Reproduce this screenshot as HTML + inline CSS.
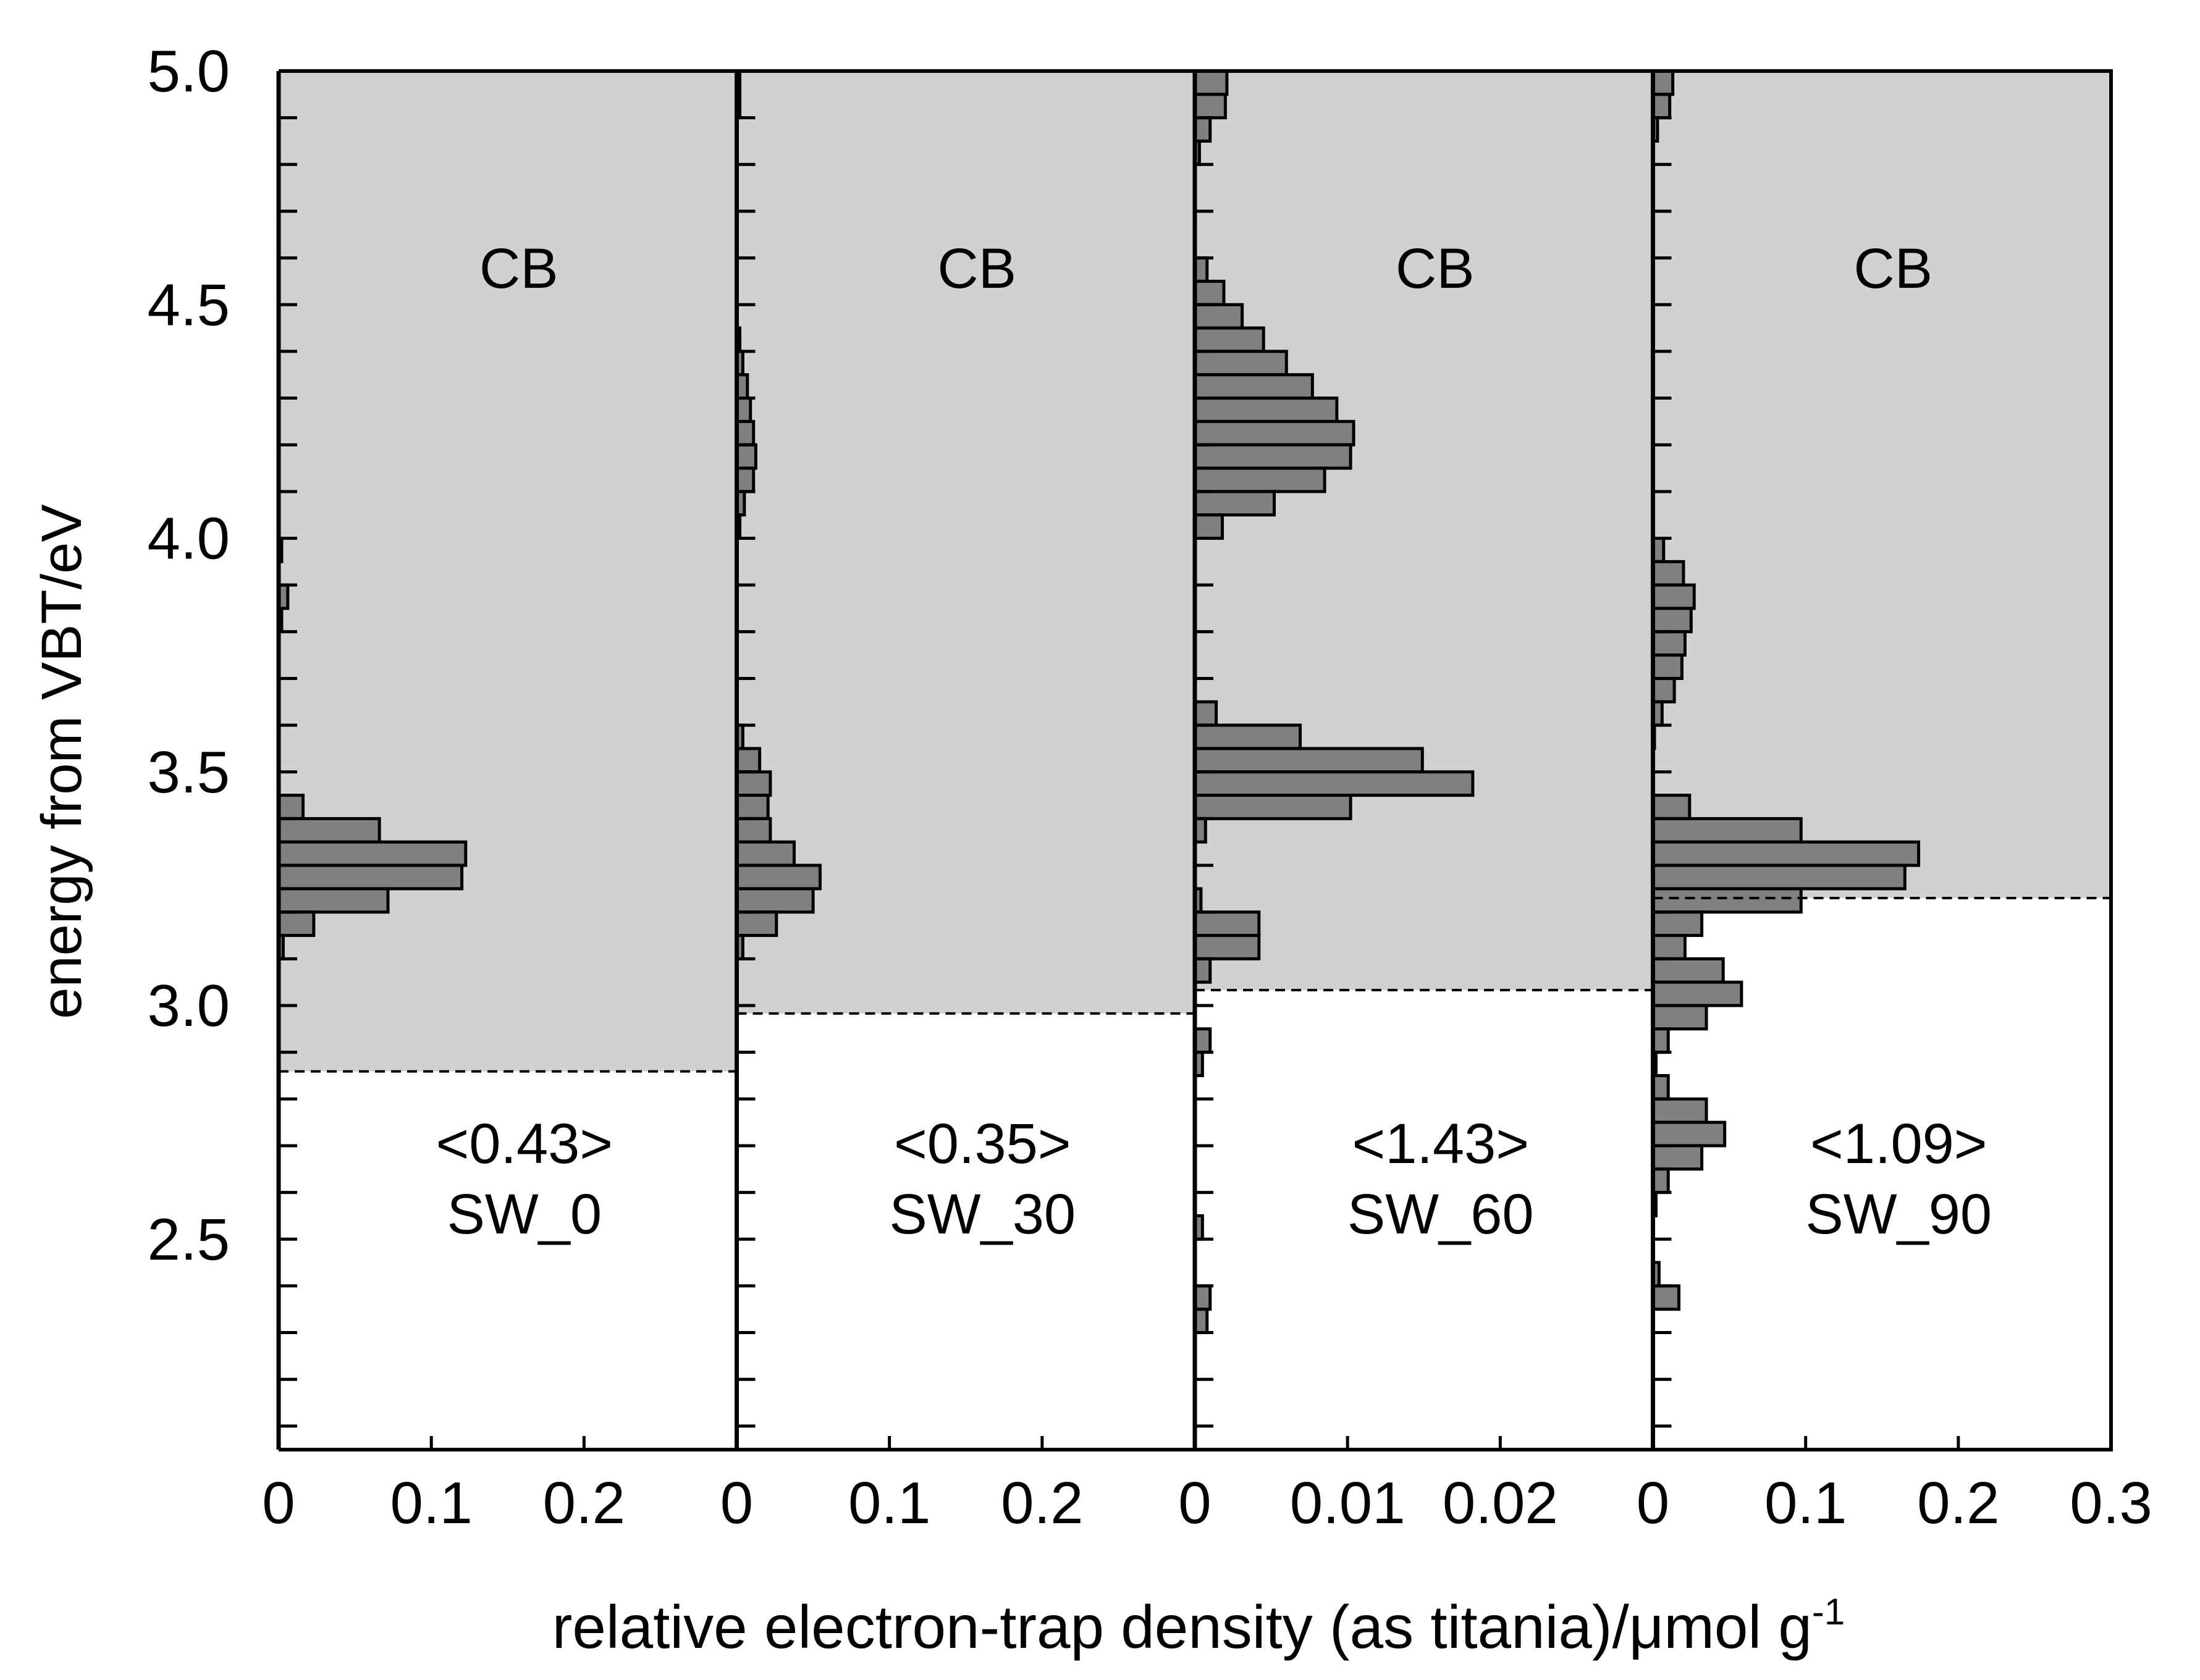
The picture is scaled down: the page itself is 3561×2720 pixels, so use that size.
<!DOCTYPE html>
<html><head><meta charset="utf-8">
<style>
html,body{margin:0;padding:0;background:#fff;}
svg{display:block;}
text{font-family:"Liberation Sans",sans-serif;fill:#000;}
</style></head>
<body>
<svg id="chart" width="3561" height="2720" viewBox="0 0 3561 2720" xmlns="http://www.w3.org/2000/svg"></svg>
<script>
const panelNames = ["SW_0","SW_30","SW_60","SW_90"];
const panelMeans = ["<0.43>","<0.35>","<1.43>","<1.09>"];
const panelMax = [0.3,0.3,0.03,0.3];
const xTickLabelsA = ["0","0.1","0.2"];
const xTickLabelsB = ["0","0.01","0.02"];
const xTickLabelEnd = "0.3";
const yTickLabels = ["5.0","4.5","4.0","3.5","3.0","2.5"];
const cbEdge = [2.859,2.983,3.033,3.23];
const binWidth = 0.05;
const sw0Low = [3.95,3.85,3.80,3.40,3.35,3.30,3.25,3.20,3.15,3.10];
const sw0Val = [0.002,0.006,0.002,0.016,0.066,0.1225,0.12,0.0716,0.023,0.003];
const sw30Low = [4.95,4.90,4.40,4.35,4.30,4.25,4.20,4.15,4.10,4.05,4.00,3.55,3.50,3.45,3.40,3.35,3.30,3.25,3.20,3.15,3.10];
const sw30Val = [0.002,0.002,0.002,0.004,0.007,0.009,0.011,0.0125,0.011,0.005,0.002,0.004,0.015,0.022,0.0205,0.022,0.0376,0.0546,0.050,0.026,0.004];
const sw60Low = [4.95,4.90,4.85,4.80,4.55,4.50,4.45,4.40,4.35,4.30,4.25,4.20,4.15,4.10,4.05,4.00,3.60,3.55,3.50,3.45,3.40,3.35,3.20,3.15,3.10,3.05,2.90,2.85,2.50,2.35,2.30];
const sw60Val = [0.0021,0.002,0.001,0.0003,0.0008,0.0019,0.0031,0.0045,0.006,0.0077,0.0093,0.0104,0.0102,0.0085,0.0052,0.0018,0.0014,0.0069,0.0149,0.0182,0.0102,0.0007,0.0004,0.0042,0.0042,0.001,0.001,0.0005,0.0005,0.001,0.0008];
const sw90Low = [4.95,4.90,4.85,3.95,3.90,3.85,3.80,3.75,3.70,3.65,3.60,3.55,3.40,3.35,3.30,3.25,3.20,3.15,3.10,3.05,3.00,2.95,2.90,2.85,2.80,2.75,2.70,2.65,2.60,2.55,2.40,2.35];
const sw90Val = [0.013,0.011,0.003,0.007,0.020,0.027,0.025,0.021,0.019,0.014,0.006,0.001,0.024,0.097,0.174,0.165,0.097,0.032,0.021,0.046,0.058,0.035,0.010,0.002,0.010,0.035,0.047,0.032,0.010,0.002,0.004,0.017];

const lows = [sw0Low,sw30Low,sw60Low,sw90Low];
const vals = [sw0Val,sw30Val,sw60Val,sw90Val];

const NS = "http://www.w3.org/2000/svg";
const svg = document.getElementById('chart');
const X0 = 451, PW = 741.5, YTOP = 115, YBOT = 2347, EMAX = 5.0, PXE = 756.5;
function yPx(e){ return YTOP + (EMAX - e) * PXE; }
function xPx(p, v){ return X0 + p*PW + v / panelMax[p] * PW; }
function mk(tag, attrs, parent){
  const el = document.createElementNS(NS, tag);
  for (const k in attrs) el.setAttribute(k, attrs[k]);
  (parent || svg).appendChild(el);
  return el;
}

for (let p = 0; p < 4; p++) {
  const g = mk('g', {});
  
  
  const left = X0 + p*PW;
  const cb = mk('rect', {x:left, y:YTOP, width:PW, height:yPx(cbEdge[p]) - YTOP, fill:'#d3d0d1'}, g);
  
  
  for (let i = 0; i < lows[p].length; i++) {
    const top = Math.max(yPx(lows[p][i] + binWidth), YTOP);
    const bot = yPx(lows[p][i]);
    const b = mk('rect', {x:left, y:top, width:Math.max(xPx(p, vals[p][i]) - left, 0.5), height:bot-top, fill:'#808080', stroke:'#000', 'stroke-width':5}, g);
    
    
  }
  const dl = mk('line', {x1:left, x2:left+PW, y1:yPx(cbEdge[p]), y2:yPx(cbEdge[p]), stroke:'#000', 'stroke-width':4, 'stroke-dasharray':'16 10'}, g);
  
  
  for (let k = 1; k <= 29; k++) {
    const e = EMAX - k*0.1;
    const t = mk('line', {x1:left, x2:left+30, y1:yPx(e), y2:yPx(e), stroke:'#000', 'stroke-width':5}, g);
    
    
  }
  const ax = mk('line', {x1:left, x2:left, y1:YTOP, y2:YBOT, stroke:'#000', 'stroke-width':7}, g);
  
  
  const labs = p === 2 ? xTickLabelsB : xTickLabelsA;
  for (let k = 0; k < labs.length; k++) {
    const xv = p === 2 ? k*0.01 : k*0.1;
    const xx = xPx(p, xv);
    if (k > 0) {
      const t = mk('line', {x1:xx, x2:xx, y1:YBOT, y2:YBOT-22, stroke:'#000', 'stroke-width':5}, g);
      
      
    }
    const tl = mk('text', {x:xx, y:2466, 'font-size':96, 'text-anchor':'middle'}, g);
    tl.textContent = labs[k];
    
    
  }
  const cx = left + PW/2;
  const cbt = mk('text', {x:cx+18, y:466, 'font-size':92, 'text-anchor':'middle'}, g);
  cbt.textContent = 'CB';
  
  
  const mt = mk('text', {x:cx+27, y:1883, 'font-size':92, 'text-anchor':'middle'}, g);
  mt.textContent = panelMeans[p];
  
  
  const nt = mk('text', {x:cx+27, y:1997, 'font-size':92, 'text-anchor':'middle'}, g);
  nt.textContent = panelNames[p];
  
  
}
const endLbl = mk('text', {x:xPx(3, 0.3), y:2466, 'font-size':96, 'text-anchor':'middle'});
endLbl.textContent = xTickLabelEnd;


const fr = mk('path', {d:`M${X0} ${YTOP} H${X0+4*PW} V${YBOT} H${X0}`, fill:'none', stroke:'#000', 'stroke-width':6});


for (let k = 0; k < yTickLabels.length; k++) {
  const e = EMAX - k*0.5;
  const t = mk('text', {x:372, y:yPx(e)+33, 'font-size':96, 'text-anchor':'end'});
  t.textContent = yTickLabels[k];
  
  
}
const yt = mk('text', {x:0, y:0, 'font-size':92, 'text-anchor':'middle', transform:'translate(131,1233) rotate(-90)'});
yt.textContent = 'energy from VBT/eV';


const xt = mk('text', {x:1940, y:2668, 'font-size':98, 'text-anchor':'middle'});


xt.appendChild(document.createTextNode('relative electron-trap density (as titania)/\u03bcmol g'));
const sup = document.createElementNS(NS, 'tspan');
sup.setAttribute('font-size', '60');
sup.setAttribute('dy', '-38');
sup.textContent = '-1';
xt.appendChild(sup);
</script>
</body></html>
